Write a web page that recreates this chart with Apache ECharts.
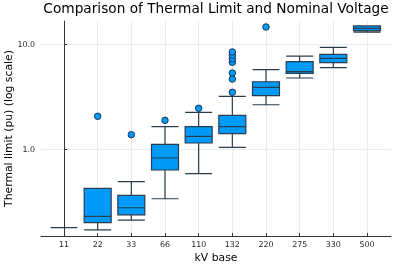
<!DOCTYPE html>
<html>
<head>
<meta charset="utf-8">
<script src="https://cdn.jsdelivr.net/npm/echarts@6/dist/echarts.min.js"></script>
<style>html,body{margin:0;padding:0;background:#fff;}#c{width:399px;height:266px;}</style>
</head>
<body>
<div id="c"></div>
<script>
const categories = ['11','22','33','66','110','132','220','275','330','500'];
const mins    = [0.181, 0.172, 0.213, 0.341, 0.591, 1.054, 2.68, 4.82, 6.04, 13.2];
const q1s     = [0.181, 0.202, 0.240, 0.641, 1.158, 1.42, 3.27, 5.34, 6.74, 13.6];
const medians = [0.181, 0.232, 0.280, 0.834, 1.342, 1.656, 3.93, 5.53, 7.42, 14.3];
const q3s     = [0.181, 0.429, 0.368, 1.126, 1.656, 2.126, 4.44, 6.89, 8.10, 15.07];
const maxs    = [0.181, 0.429, 0.496, 1.656, 2.27, 3.225, 5.78, 7.80, 9.44, 15.1];
const outlierCat = [1, 2, 3, 4, 5, 5, 5, 5, 5, 5, 5, 6];
const outlierVal = [2.08, 1.39, 1.905, 2.48, 3.52, 4.71, 5.38, 6.80, 7.36, 7.93, 8.52, 14.75];
const yTicks = [1, 10];
const yTickLabels = ['1.0', '10.0'];

const boxData = categories.map((c, i) => [i, mins[i], q1s[i], medians[i], q3s[i], maxs[i]]);
const outData = outlierCat.map((c, i) => [c, outlierVal[i]]);
const catIdx = categories.map((c, i) => i);

const FONT = 'DejaVu Sans';
const chart = echarts.init(document.getElementById('c'), null, {renderer: 'canvas'});
chart.setOption({
  animation: false,
  backgroundColor: '#ffffff',
  title: {
    text: 'Comparison of Thermal Limit and Nominal Voltage',
    left: 211, top: -3, textAlign: 'center',
    textStyle: {fontFamily: FONT, fontSize: 13.7, fontWeight: 'normal', color: '#000'}
  },
  grid: {left: 41, right: 8, top: 21, bottom: 30, containLabel: false, outerBoundsMode: 'none'},
  xAxis: {
    type: 'value', min: -0.683, max: 9.713,
    name: 'kV base', nameLocation: 'middle', nameGap: 17, nameMoveOverlap: false,
    nameTextStyle: {fontFamily: FONT, fontSize: 10.8, color: '#000'},
    axisLine: {show: true, onZero: false, lineStyle: {color: '#333', width: 1}},
    axisTick: {show: true, inside: true, length: 3, customValues: catIdx, lineStyle: {color: '#333'}},
    axisLabel: {customValues: catIdx, fontFamily: FONT, fontSize: 7.9, color: '#222', margin: 5,
      formatter: v => categories[Math.round(v)] || ''},
    splitLine: {show: true, lineStyle: {color: '#ebebeb', width: 1}}
  },
  yAxis: {
    type: 'log', logBase: 10, min: 0.1507, max: 16.82,
    name: 'Thermal limit (pu) (log scale)', nameLocation: 'middle', nameGap: 26, nameRotate: 90, nameMoveOverlap: false,
    nameTextStyle: {fontFamily: FONT, fontSize: 10.8, color: '#000'},
    axisLine: {show: true, lineStyle: {color: '#333', width: 1}},
    axisTick: {show: true, inside: true, length: 3, lineStyle: {color: '#333'}},
    axisLabel: {fontFamily: FONT, fontSize: 7.9, color: '#222', margin: 6, showMinLabel: false, showMaxLabel: false,
      formatter: v => { const k = yTicks.findIndex(t => Math.abs(t - v) < 1e-6 * t); return k >= 0 ? yTickLabels[k] : ''; }},
    splitLine: {show: true, showMinLine: false, showMaxLine: false, lineStyle: {color: '#ebebeb', width: 1}}
  },
  series: [
    {
      type: 'boxplot',
      layout: 'horizontal',
      data: boxData,
      boxWidth: [27, 27],
      itemStyle: {color: '#009AFA', borderColor: '#2a3d4f', borderWidth: 1.2},
      z: 2
    },
    {
      type: 'scatter',
      data: outData,
      symbol: 'circle',
      symbolSize: 6.5,
      itemStyle: {color: '#009AFA', borderColor: '#1f3550', borderWidth: 1, opacity: 1},
      z: 3
    }
  ]
});
</script>
</body>
</html>
